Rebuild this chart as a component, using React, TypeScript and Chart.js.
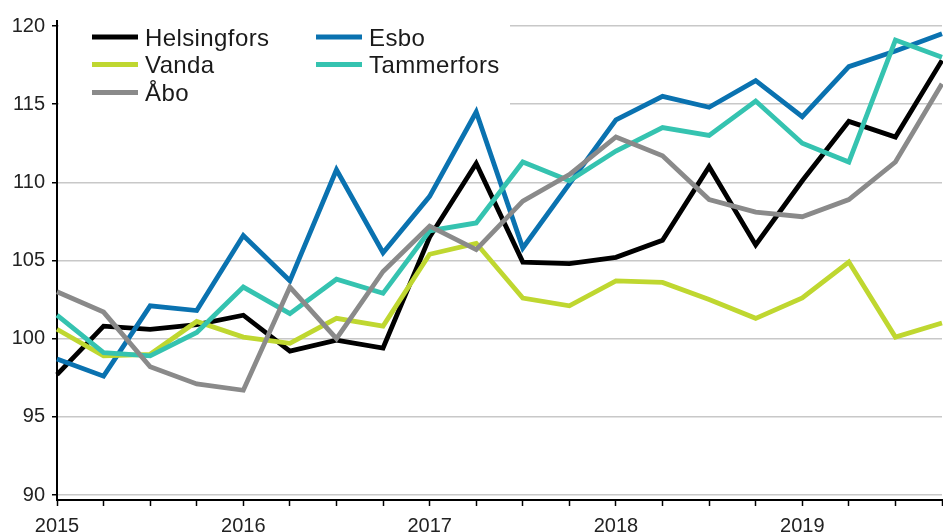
import React, { useEffect, useRef } from 'react';
import { Chart, registerables } from 'chart.js';

Chart.register(...registerables);

const years = ['2015', '2016', '2017', '2018', '2019'];
const quarters = ['Q1', 'Q2', 'Q3', 'Q4'];
const periods = years.flatMap((y) => quarters.map((q) => `${y}${q}`));
const yTicks = [90, 95, 100, 105, 110, 115, 120];

const seriesNames = ['Helsingfors', 'Esbo', 'Vanda', 'Tammerfors', 'Åbo'];

const helsingfors = [97.7, 100.8, 100.6, 100.9, 101.5, 99.2, 99.9, 99.4, 106.5, 111.2, 104.9, 104.8, 105.2, 106.3, 111.0, 106.0, 110.1, 113.9, 112.9, 117.8];
const esbo = [98.7, 97.6, 102.1, 101.8, 106.6, 103.7, 110.8, 105.5, 109.1, 114.5, 105.8, 109.9, 114.0, 115.5, 114.8, 116.5, 114.2, 117.4, 118.4, 119.5];
const vanda = [100.6, 98.9, 99.0, 101.1, 100.1, 99.7, 101.3, 100.8, 105.4, 106.1, 102.6, 102.1, 103.7, 103.6, 102.5, 101.3, 102.6, 104.9, 100.1, 101.0];
const tammerfors = [101.5, 99.1, 98.9, 100.4, 103.3, 101.6, 103.8, 102.9, 106.9, 107.4, 111.3, 110.1, 112.0, 113.5, 113.0, 115.2, 112.5, 111.3, 119.1, 118.0];
const abo = [103.0, 101.7, 98.2, 97.1, 96.7, 103.3, 100.0, 104.3, 107.2, 105.7, 108.8, 110.5, 112.9, 111.7, 108.9, 108.1, 107.8, 108.9, 111.3, 116.3];

const seriesValues = [helsingfors, esbo, vanda, tammerfors, abo];
const seriesColors = ['#000000', '#0a72b0', '#bfd730', '#35c3b0', '#8a8a8a'];

const FONT = "'Liberation Sans', Arial, sans-serif";

const insideLegend = {
  id: 'insideLegend',
  beforeDatasetsDraw(chart: any) {
    const ctx = chart.ctx;
    const area = chart.chartArea;
    ctx.save();
    ctx.fillStyle = '#ffffff';
    ctx.fillRect(area.left + 2, 0, 510 - area.left - 2, 110);
    const colX = [92, 316];
    const rowY = [37, 64.5, 92.5];
    ctx.font = `24px ${FONT}`;
    try { (ctx as any).letterSpacing = '0.4px'; } catch (e) {}
    ctx.textBaseline = 'alphabetic';
    ctx.textAlign = 'left';
    chart.data.datasets.forEach((ds: any, i: number) => {
      const x = colX[i % 2];
      const y = rowY[Math.floor(i / 2)];
      ctx.strokeStyle = ds.borderColor;
      ctx.lineWidth = 5;
      ctx.lineCap = 'butt';
      ctx.beginPath();
      ctx.moveTo(x, y);
      ctx.lineTo(x + 46, y);
      ctx.stroke();
      ctx.fillStyle = '#1a1a1a';
      ctx.fillText(ds.label, x + 53, y + 8.5);
    });
    ctx.restore();
  },
};

export default function App() {
  const ref = useRef<HTMLCanvasElement | null>(null);
  useEffect(() => {
    if (!ref.current) return;
    const chart = new Chart(ref.current, {
      type: 'line',
      data: {
        labels: periods,
        datasets: seriesNames.map((name, i) => ({
          label: name,
          data: seriesValues[i],
          borderColor: seriesColors[i],
          backgroundColor: seriesColors[i],
          borderWidth: 4.8,
          pointRadius: 0,
          tension: 0,
          fill: false,
          order: seriesNames.length - i,
        })),
      },
      options: {
        animation: false,
        responsive: false,
        maintainAspectRatio: false,
        layout: { padding: { top: 21, right: 1, left: 0, bottom: 0 } },
        plugins: { legend: { display: false }, tooltip: { enabled: false } },
        scales: {
          x: {
            type: 'category',
            offset: false,
            grid: { drawOnChartArea: false, drawTicks: true, tickLength: 6, tickColor: '#000', tickWidth: 1.5 },
            border: { color: '#000', width: 2 },
            ticks: {
              autoSkip: false,
              maxRotation: 0,
              minRotation: 0,
              padding: 8,
              color: '#222',
              font: { family: FONT, size: 20 },
              callback: (_v: any, i: number) => (periods[i].endsWith('Q1') ? periods[i].slice(0, 4) : ''),
            },
            afterFit: (s: any) => { s.height = 32; s.paddingLeft = 0; s.paddingRight = 0; },
          },
          y: {
            min: 89.68,
            max: 120.32,
            afterBuildTicks: (s: any) => { s.ticks = yTicks.map((v) => ({ value: v })); },
            grid: { color: '#c8c8c8', lineWidth: 1.5, tickLength: 5, tickColor: '#000', tickWidth: 1.5 },
            border: { color: '#000', width: 2 },
            ticks: { padding: 7, color: '#222', font: { family: FONT, size: 20 } },
            afterFit: (s: any) => { s.width = 57; },
          },
        },
      },
      plugins: [insideLegend],
    } as any);
    return () => chart.destroy();
  }, []);
  return (
    <div style={{ position: 'absolute', left: 0, top: 0, width: 943, height: 532, background: '#fff' }}>
      <canvas ref={ref} width={943} height={532} />
    </div>
  );
}
